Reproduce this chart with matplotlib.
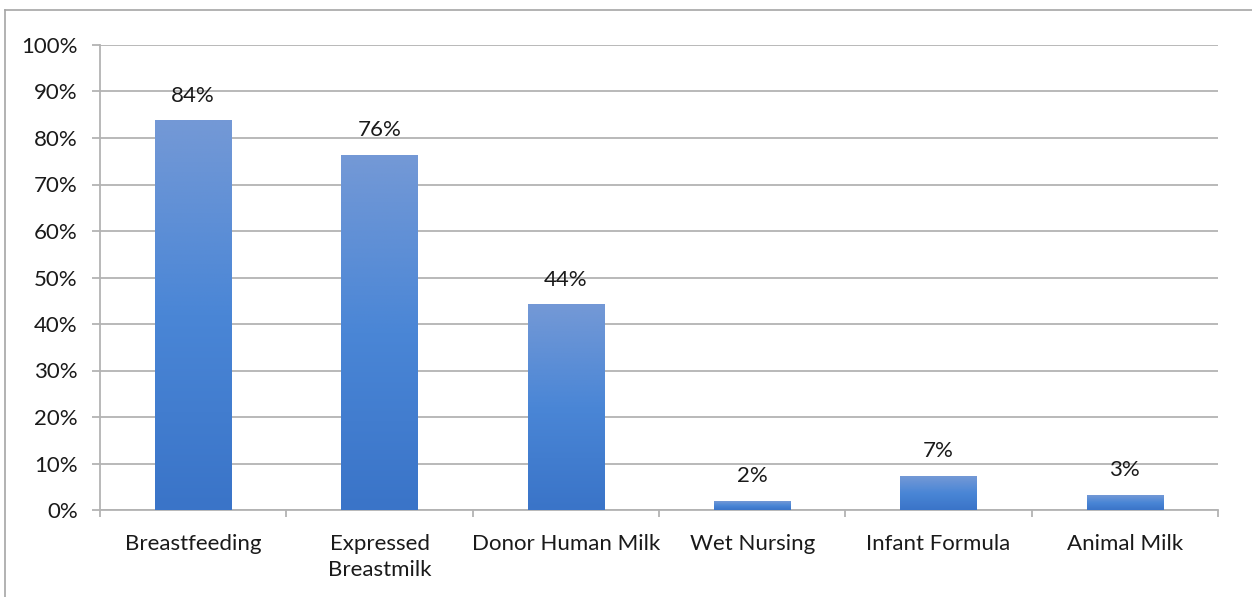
"""
Infant feeding methods — share of respondents, Excel-style column chart
with per-bar vertical gradient fill.
"""
import numpy as np
import matplotlib
matplotlib.use("Agg")
import matplotlib.pyplot as plt
from matplotlib.colors import LinearSegmentedColormap
from matplotlib.lines import Line2D

categories = ["Breastfeeding", "Expressed\nBreastmilk", "Donor Human Milk",
              "Wet Nursing", "Infant Formula", "Animal Milk"]
values = [83.7, 76.3, 44.1, 1.9, 7.3, 3.2]      # percent
labels = ["84%", "76%", "44%", "2%", "7%", "3%"]
yticks = list(range(0, 101, 10))

plt.rcParams['font.family'] = ['Lato', 'DejaVu Sans']
FS = 16

fig = plt.figure(figsize=(12.52, 5.97), dpi=100)
ax = fig.add_axes([100 / 1252, 87 / 597, 1118 / 1252, 465 / 597])

grid_c = '#b3b3b3'
x = np.arange(len(categories))
bars = ax.bar(x, values, width=0.41, color='none', zorder=3)

# vertical gradient inside every bar: lighter top, darker bottom
cmap = LinearSegmentedColormap.from_list('bar', ['#3a74c8', '#4a86d6', '#7499d6'])
grad = np.linspace(0, 1, 256).reshape(-1, 1)
for b in bars:
    x0, w, h = b.get_x(), b.get_width(), b.get_height()
    ax.imshow(grad, extent=[x0, x0 + w, 0, h], origin='lower', cmap=cmap,
              aspect='auto', zorder=3, interpolation='bicubic')

for xi, v, lab in zip(x, values, labels):
    ax.annotate(lab, (xi, v), xytext=(0, 18), textcoords='offset points',
                ha='center', va='center', fontsize=FS, color='#1a1a1a', zorder=4)

ax.set_xlim(-0.5, len(categories) - 0.5)
ax.set_ylim(0, 100)
ax.set_yticks(yticks)
ax.set_yticklabels([f"{t}%" for t in yticks], fontsize=FS, color='#1a1a1a')
ax.yaxis.grid(True, color=grid_c, linewidth=1.3, zorder=0)
ax.set_axisbelow(True)

ax.set_xticks(x)
ax.set_xticklabels(categories, fontsize=FS, color='#1a1a1a', linespacing=1.4,
                   va='top')
ax.set_xticks(np.arange(len(categories) + 1) - 0.5, minor=True)
ax.tick_params(axis='x', which='major', length=0, pad=17)
ax.tick_params(axis='x', which='minor', length=5, width=1.3, color=grid_c,
               direction='out')
ax.tick_params(axis='y', length=6, width=1.3, color=grid_c, direction='out', pad=10)

for s in ['top', 'right']:
    ax.spines[s].set_visible(False)
for s in ['left', 'bottom']:
    ax.spines[s].set_color(grid_c)
    ax.spines[s].set_linewidth(1.3)

# chart-area border (only left and top edges are visible in the crop)
fig.add_artist(Line2D([5 / 1252, 5 / 1252], [0, 1 - 10 / 597],
                      transform=fig.transFigure, color='#a6a6a6', lw=1.2))
fig.add_artist(Line2D([5 / 1252, 1], [1 - 10 / 597, 1 - 10 / 597],
                      transform=fig.transFigure, color='#a6a6a6', lw=1.2))

fig.savefig("out.png", dpi=100)
